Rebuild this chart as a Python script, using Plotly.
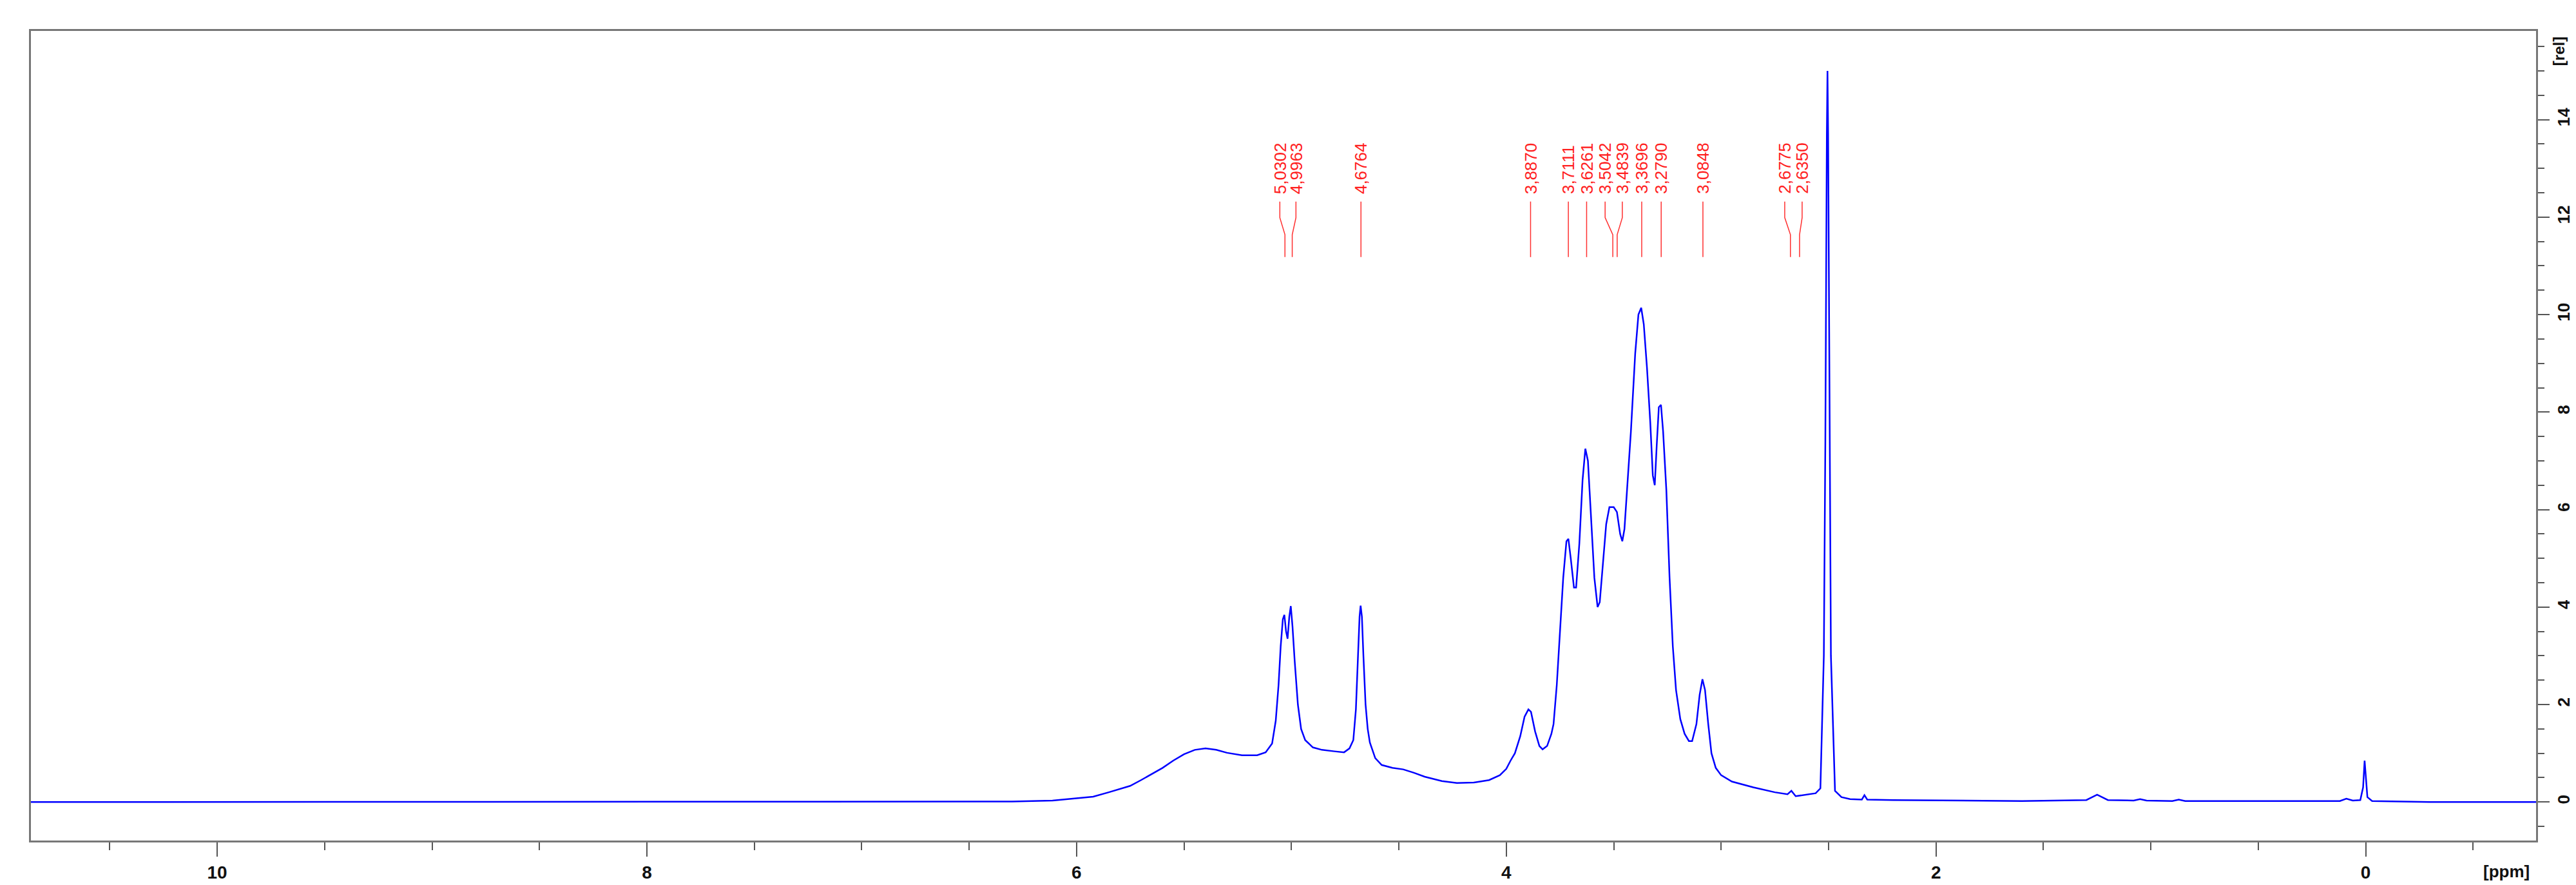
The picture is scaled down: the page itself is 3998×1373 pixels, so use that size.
import plotly.graph_objects as go

# Spectrum trace (ppm, relative intensity)
ppm = [10.867, 9.5, 8.5, 7.5, 7.0, 6.489, 6.3, 6.112, 5.923, 5.85, 5.751, 5.7, 5.6, 5.55, 5.5,
       5.45, 5.4, 5.35, 5.3, 5.23, 5.16, 5.12, 5.09, 5.073, 5.06, 5.05, 5.04, 5.033, 5.025,
       5.018, 5.01, 5.003, 4.995, 4.985, 4.97, 4.955, 4.936, 4.9, 4.858, 4.8, 4.755, 4.73,
       4.712, 4.70, 4.69, 4.683, 4.678, 4.672, 4.665, 4.655, 4.645, 4.635, 4.61, 4.58, 4.53,
       4.48, 4.43, 4.38, 4.3, 4.23, 4.15, 4.08, 4.03, 4.0, 3.98, 3.96, 3.935, 3.915, 3.897,
       3.885, 3.866, 3.846, 3.831, 3.81, 3.79, 3.78, 3.765, 3.75, 3.735, 3.72, 3.711, 3.70,
       3.685, 3.675, 3.66, 3.645, 3.632, 3.62, 3.605, 3.59, 3.575, 3.565, 3.55, 3.535, 3.52,
       3.50, 3.485, 3.47, 3.46, 3.45, 3.435, 3.42, 3.40, 3.385, 3.372, 3.36, 3.345, 3.33,
       3.318, 3.309, 3.30, 3.29, 3.28, 3.27, 3.255, 3.24, 3.225, 3.21, 3.19, 3.17, 3.15,
       3.135, 3.115, 3.10, 3.087, 3.075, 3.06, 3.045, 3.025, 3.0, 2.95, 2.85, 2.75, 2.691,
       2.673, 2.653, 2.56, 2.538, 2.522, 2.515, 2.508, 2.505, 2.502, 2.495, 2.489, 2.47,
       2.44, 2.4, 2.345, 2.333, 2.32, 2.2, 2.0,
       1.6, 1.3, 1.25, 1.2, 1.08, 1.05, 1.02, 0.9, 0.87, 0.84, 0.5, 0.12, 0.09, 0.06, 0.025,
       0.012, 0.005, 0.0, -0.008, -0.03, -0.3, -0.793]
intensity = [0.0, 0.0, 0.0, 0.0, 0.0, 0.0, 0.01, 0.03, 0.11, 0.2, 0.33, 0.45, 0.7, 0.85, 0.98,
             1.07, 1.1, 1.07, 1.01, 0.96, 0.96, 1.02, 1.2, 1.67, 2.4, 3.2, 3.75, 3.84, 3.5,
             3.35, 3.8, 4.02, 3.6, 2.9, 2.0, 1.5, 1.27, 1.12, 1.07, 1.04, 1.02, 1.1,
             1.27, 1.9, 3.0, 3.8, 4.03, 3.8, 3.0, 2.0, 1.5, 1.22, 0.9, 0.76, 0.7,
             0.67, 0.6, 0.52, 0.43, 0.39, 0.4, 0.45, 0.55, 0.68, 0.85, 1.0, 1.35, 1.75, 1.9,
             1.85, 1.45, 1.15, 1.08, 1.15, 1.4, 1.6, 2.4, 3.5, 4.6, 5.35, 5.4, 5.0,
             4.4, 4.4, 5.3, 6.6, 7.25, 7.0, 5.8, 4.6, 4.0, 4.1, 4.9, 5.7, 6.05,
             6.05, 5.95, 5.5, 5.35, 5.6, 6.6, 7.6, 9.2, 10.0, 10.14, 9.8, 8.9, 7.8,
             6.7, 6.5, 7.3, 8.1, 8.15, 7.6, 6.4, 4.6, 3.2, 2.3, 1.7, 1.4, 1.25,
             1.25, 1.6, 2.2, 2.52, 2.3, 1.6, 1.0, 0.7, 0.55, 0.42, 0.3, 0.2, 0.16,
             0.23, 0.12, 0.18, 0.28, 3.0, 7.4, 13.7, 15.0, 13.7, 7.1, 3.0, 0.23,
             0.1, 0.06, 0.05, 0.14, 0.05, 0.04, 0.03,
             0.02, 0.04, 0.15, 0.04, 0.03, 0.06, 0.03, 0.02, 0.05, 0.02, 0.02, 0.02, 0.07, 0.03, 0.04,
             0.3, 0.85, 0.55, 0.1, 0.02, 0.0, 0.0]

# Peak picking labels
peak_text = ["5,0302", "4,9963", "4,6764", "3,8870", "3,7111", "3,6261", "3,5042",
             "3,4839", "3,3696", "3,2790", "3,0848", "2,6775", "2,6350"]
peak_ppm = [5.0302, 4.9963, 4.6764, 3.8870, 3.7111, 3.6261, 3.5042,
            3.4839, 3.3696, 3.2790, 3.0848, 2.6775, 2.6350]
label_ppm = [5.054, 4.979, 4.6764, 3.8870, 3.7111, 3.6261, 3.54,
             3.46, 3.3696, 3.2790, 3.0848, 2.704, 2.623]

x_major = [10, 8, 6, 4, 2, 0]
y_major = [0, 2, 4, 6, 8, 10, 12, 14]

fig = go.Figure()
fig.add_trace(go.Scatter(x=ppm, y=intensity, mode="lines",
                         line=dict(color="#0000ff", width=2.5), showlegend=False))

for lp, pp in zip(label_ppm, peak_ppm):
    fig.add_trace(go.Scatter(x=[lp, lp, pp, pp], y=[12.32, 11.99, 11.64, 11.18], mode="lines",
                             line=dict(color="#ff3030", width=1.5), showlegend=False,
                             hoverinfo="skip"))
for lp, t in zip(label_ppm, peak_text):
    fig.add_annotation(x=lp, y=12.45, text=t, textangle=-90, showarrow=False,
                       xanchor="center", yanchor="bottom",
                       font=dict(color="#ff2020", size=26, family="Liberation Sans"))

fig.update_xaxes(range=[10.867, -0.793], tickvals=x_major, ticktext=[str(v) for v in x_major],
                 ticks="outside", ticklen=22, tickwidth=2, tickcolor="#555",
                 minor=dict(dtick=0.5, ticks="outside", ticklen=12, tickwidth=2, tickcolor="#555"),
                 showline=True, linecolor="#777", linewidth=3, mirror=True,
                 showgrid=False, zeroline=False,
                 tickfont=dict(size=28, family="Liberation Sans", color="#111", weight="bold"))
fig.update_yaxes(range=[-0.79, 15.82], side="right", tickvals=y_major,
                 ticktext=[str(v) for v in y_major], tickangle=-90,
                 ticks="outside", ticklen=18, tickwidth=2, tickcolor="#555",
                 minor=dict(dtick=0.5, ticks="outside", ticklen=10, tickwidth=2, tickcolor="#555"),
                 showline=True, linecolor="#777", linewidth=3, mirror=True,
                 showgrid=False, zeroline=False,
                 tickfont=dict(size=26, family="Liberation Sans", color="#111", weight="bold"))
fig.add_annotation(xref="paper", yref="paper", x=1.0092, y=0.975, text="[rel]", textangle=-90,
                   showarrow=False, xanchor="center", yanchor="middle",
                   font=dict(size=24, family="Liberation Sans", color="#111", weight="bold"))
fig.add_annotation(xref="paper", yref="paper", x=0.998, y=-0.025, text="[ppm]",
                   showarrow=False, xanchor="right", yanchor="top",
                   font=dict(size=26, family="Liberation Sans", color="#111", weight="bold"))
fig.update_layout(width=3998, height=1373, margin=dict(l=40, r=68, t=40, b=70),
                  plot_bgcolor="white", paper_bgcolor="white")
fig.write_html("out.html")
